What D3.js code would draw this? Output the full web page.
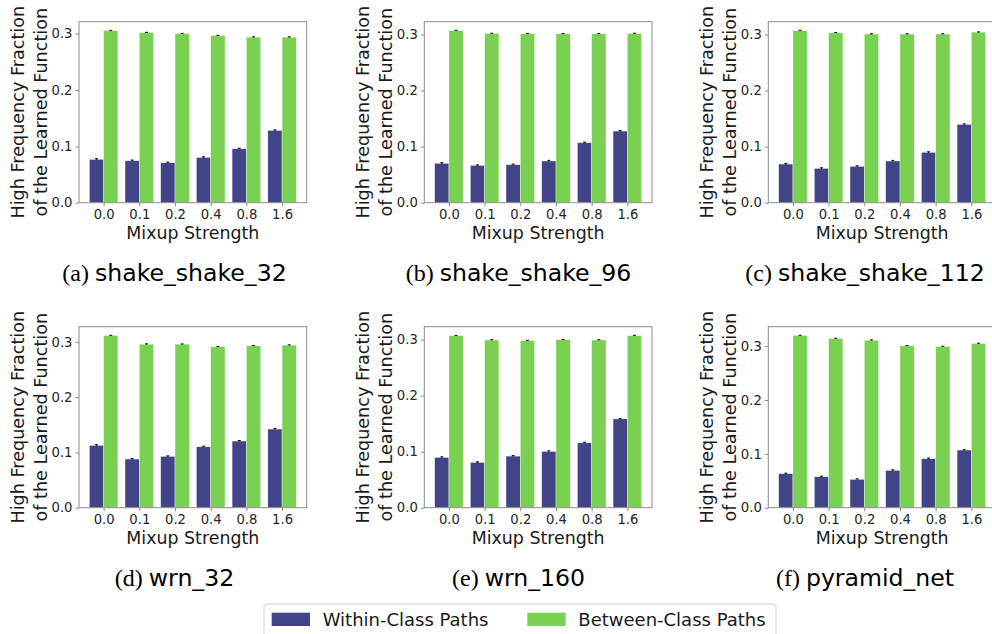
<!DOCTYPE html>
<html>
<head>
<meta charset="utf-8">
<script src="https://cdn.jsdelivr.net/npm/d3@7/dist/d3.min.js"></script>
<style>
  body { margin: 0; background: #fff; }
  svg { display: block; font-family: "DejaVu Sans", sans-serif; }
  .axis path, .axis line { stroke: #8c8c8c; }
  .axis text { fill: #262626; }
</style>
</head>
<body>
<div id="chart"></div>
<script>
// categorias del eje x
var strengths = ["0.0", "0.1", "0.2", "0.4", "0.8", "1.6"];
var seriesNames = ["Within-Class Paths", "Between-Class Paths"];

// nombres de los paneles
var panelLetters = ["(a)", "(b)", "(c)", "(d)", "(e)", "(f)"];
var panelNames = ["shake_shake_32", "shake_shake_96", "shake_shake_112", "wrn_32", "wrn_160", "pyramid_net"];

// valores
var withinClass = [
  [0.0768, 0.0744, 0.0709, 0.0803, 0.0957, 0.1282],
  [0.0701, 0.0665, 0.0677, 0.0743, 0.1070, 0.1277],
  [0.0689, 0.0612, 0.0648, 0.0743, 0.0897, 0.1396],
  [0.1127, 0.0880, 0.0928, 0.1102, 0.1205, 0.1422],
  [0.0897, 0.0808, 0.0921, 0.1004, 0.1159, 0.1586],
  [0.0631, 0.0575, 0.0526, 0.0693, 0.0909, 0.1070]
];
var betweenClass = [
  [0.3054, 0.3018, 0.3000, 0.2965, 0.2936, 0.2936],
  [0.3070, 0.3018, 0.3012, 0.3012, 0.3012, 0.3018],
  [0.3070, 0.3030, 0.3007, 0.3007, 0.3007, 0.3042],
  [0.3114, 0.2958, 0.2958, 0.2910, 0.2928, 0.2940],
  [0.3072, 0.2995, 0.2983, 0.3001, 0.2995, 0.3072],
  [0.3197, 0.3142, 0.3110, 0.3006, 0.2993, 0.3049]
];
var withinErr = [
  [0.0012, 0.0012, 0.0011, 0.0012, 0.0010, 0.0010],
  [0.0012, 0.0010, 0.0011, 0.0012, 0.0010, 0.0010],
  [0.0011, 0.0011, 0.0010, 0.0011, 0.0012, 0.0010],
  [0.0012, 0.0011, 0.0010, 0.0010, 0.0011, 0.0012],
  [0.0011, 0.0011, 0.0010, 0.0011, 0.0011, 0.0008],
  [0.0010, 0.0010, 0.0010, 0.0011, 0.0012, 0.0008]
];
var betweenErr = [
  [0.0004, 0.0004, 0.0004, 0.0004, 0.0006, 0.0006],
  [0.0004, 0.0004, 0.0006, 0.0004, 0.0004, 0.0004],
  [0.0004, 0.0004, 0.0006, 0.0006, 0.0006, 0.0004],
  [0.0004, 0.0006, 0.0004, 0.0004, 0.0006, 0.0006],
  [0.0004, 0.0006, 0.0006, 0.0004, 0.0004, 0.0006],
  [0.0004, 0.0006, 0.0006, 0.0004, 0.0006, 0.0006]
];
var yTicks = [0, 0.1, 0.2, 0.3];

// parametros de la grafica
var width = 992, height = 634;
var plotW = 227.7, plotH = 181;
var lefts = [79, 424.3, 768.3];
var tops = [21.7, 326.7];
var captionX = [174.5, 518.5, 865];
var barW = 0.4;
var colors = ["#414487", "#7ad151"];

var svg = d3.select("#chart").append("svg")
  .attr("width", width)
  .attr("height", height);

svg.append("rect").attr("width", width).attr("height", height).attr("fill", "#fff");

var xScale = d3.scaleLinear()
  .domain([-barW - 0.29, 5 + barW + 0.29])
  .range([0, plotW]);

panelNames.forEach(function (name, p) {
  var col = p % 3, row = Math.floor(p / 3);
  var g = svg.append("g")
    .attr("transform", `translate(${lefts[col]}, ${tops[row]})`);

  var rows = strengths.map(function (s, i) {
    return [
      { i: i, k: 0, v: withinClass[p][i], e: withinErr[p][i] },
      { i: i, k: 1, v: betweenClass[p][i], e: betweenErr[p][i] }
    ];
  });
  var flat = d3.merge(rows);
  var yMax = d3.max(flat, d => d.v + d.e) * 1.05;

  var yScale = d3.scaleLinear()
    .domain([0, yMax])
    .range([plotH, 0]);

  /* barras */
  g.selectAll(".bar")
    .data(flat).enter()
    .append("rect")
    .attr("class", "bar")
    .attr("x", d => xScale(d.i + (d.k === 0 ? -barW : 0)))
    .attr("width", xScale(barW) - xScale(0))
    .attr("y", d => yScale(d.v))
    .attr("height", d => plotH - yScale(d.v))
    .attr("fill", d => colors[d.k])
    .attr("stroke", "#ffffff")
    .attr("stroke-opacity", 0.6)
    .attr("stroke-width", 0.6);

  /* barras de error */
  var err = g.selectAll(".err")
    .data(flat).enter()
    .append("g")
    .attr("class", "err")
    .attr("stroke", "#111")
    .attr("stroke-width", 1);
  err.append("line")
    .attr("x1", d => xScale(d.i + (d.k === 0 ? -barW / 2 : barW / 2)))
    .attr("x2", d => xScale(d.i + (d.k === 0 ? -barW / 2 : barW / 2)))
    .attr("y1", d => yScale(d.v - d.e))
    .attr("y2", d => yScale(d.v + d.e));
  err.append("line")
    .attr("x1", d => xScale(d.i + (d.k === 0 ? -barW / 2 : barW / 2)) - 1.5)
    .attr("x2", d => xScale(d.i + (d.k === 0 ? -barW / 2 : barW / 2)) + 1.5)
    .attr("y1", d => yScale(d.v + d.e))
    .attr("y2", d => yScale(d.v + d.e));

  /* ejes */
  var xAxis = d3.axisBottom(xScale)
    .tickValues(d3.range(strengths.length))
    .tickFormat(i => strengths[i])
    .tickSize(3.5)
    .tickSizeOuter(0)
    .tickPadding(3);
  var yAxis = d3.axisLeft(yScale)
    .tickValues(yTicks)
    .tickFormat(d3.format(".1f"))
    .tickSize(3.5)
    .tickSizeOuter(0)
    .tickPadding(3);

  g.append("g")
    .attr("class", "x axis")
    .attr("transform", `translate(0, ${plotH})`)
    .call(xAxis)
    .call(a => a.select(".domain").remove())
    .selectAll("text")
    .attr("font-size", "13.2px")
    .attr("font-family", "DejaVu Sans");

  g.append("g")
    .attr("class", "y axis")
    .call(yAxis)
    .call(a => a.select(".domain").remove())
    .selectAll("text")
    .attr("font-size", "13.2px")
    .attr("font-family", "DejaVu Sans");

  // marco
  g.append("rect")
    .attr("width", plotW)
    .attr("height", plotH)
    .attr("fill", "none")
    .attr("stroke", "#8c8c8c")
    .attr("stroke-width", 1);

  // etiquetas de los ejes
  g.append("text")
    .attr("x", plotW / 2)
    .attr("y", plotH + 36)
    .attr("text-anchor", "middle")
    .attr("font-size", "17.4px")
    .attr("fill", "#1a1a1a")
    .text("Mixup Strength");

  var yl = g.append("text")
    .attr("transform", `translate(-55, ${plotH / 2}) rotate(-90)`)
    .attr("text-anchor", "middle")
    .attr("font-size", "17.6px")
    .attr("fill", "#1a1a1a");
  yl.append("tspan").attr("x", 0).attr("y", 0).text("High Frequency Fraction");
  yl.append("tspan").attr("x", 0).attr("y", 22.5).text("of the Learned Function");

  // subtitulo
  var cap = svg.append("text")
    .attr("x", captionX[col])
    .attr("y", tops[row] + plotH + 78.5)
    .attr("text-anchor", "middle")
    .attr("fill", "#000");
  cap.append("tspan")
    .attr("font-family", "Liberation Serif, serif")
    .attr("font-size", "24px")
    .text(panelLetters[p] + " ");
  cap.append("tspan")
    .attr("font-size", "23.6px")
    .text(name);
});

/* leyenda */
var legend = svg.append("g").attr("transform", "translate(264, 604)");
legend.append("rect")
  .attr("x", 0).attr("y", 0)
  .attr("width", 512).attr("height", 40)
  .attr("rx", 3)
  .attr("fill", "#fff")
  .attr("stroke", "#d0d0d0");

var legendX = [7.7, 263.3];
seriesNames.forEach(function (s, k) {
  legend.append("rect")
    .attr("x", legendX[k])
    .attr("y", 8.7)
    .attr("width", 38.3)
    .attr("height", 13.3)
    .attr("fill", colors[k]);
  legend.append("text")
    .attr("x", legendX[k] + 51)
    .attr("y", 21.8)
    .attr("font-size", "18px")
    .attr("fill", "#1a1a1a")
    .text(s);
});
</script>
</body>
</html>
